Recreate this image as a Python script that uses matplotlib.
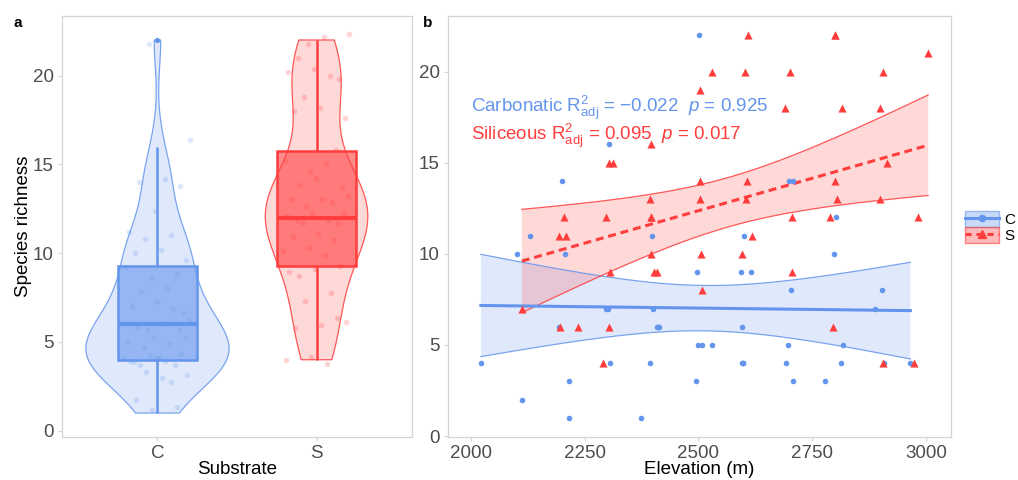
import numpy as np
import matplotlib
matplotlib.use("Agg")
import matplotlib.pyplot as plt
from matplotlib.patches import Patch, Rectangle
from matplotlib.lines import Line2D
from matplotlib.colors import to_rgba

plt.rcParams['font.family'] = ['Liberation Sans', 'DejaVu Sans']
plt.rcParams['mathtext.fontset'] = 'custom'
plt.rcParams['mathtext.rm'] = 'Liberation Sans'
plt.rcParams['mathtext.it'] = 'Liberation Sans:italic'
plt.rcParams['mathtext.bf'] = 'Liberation Sans:bold'

# ---------------- data ----------------
substrates = ["C", "S"]
elev_C = [2501, 2303, 2200, 2699, 2709, 2803, 2130, 2399, 2601, 2102, 2206, 2798,
          2496, 2593, 2615, 2704, 2904, 2297, 2301, 2401, 2888, 2193, 2408, 2414,
          2411, 2597, 2499, 2507, 2531, 2697, 2817, 2022, 2306, 2393, 2596, 2599,
          2599, 2693, 2813, 2907, 2966, 2215, 2494, 2709, 2779, 2112, 2216, 2374]
rich_C = [22, 16, 14, 14, 14, 12, 11, 11, 11, 10, 10, 10,
          9, 9, 9, 8, 8, 7, 7, 7, 7, 6, 6, 6,
          6, 6, 5, 5, 5, 5, 5, 4, 4, 4, 4, 4,
          4, 4, 4, 4, 4, 3, 3, 3, 3, 2, 1, 1]
elev_S = [2609, 2801, 2801, 3005, 2529, 2602, 2702, 2906, 2503, 2691, 2815, 2900,
          2397, 2303, 2312, 2915, 2503, 2607, 2800, 2393, 2503, 2604, 2804, 2900,
          2205, 2296, 2395, 2395, 2706, 2790, 2982, 2194, 2210, 2617, 2397, 2505,
          2597, 2305, 2402, 2408, 2706, 2507, 2112, 2196, 2235, 2304, 2796, 2291,
          2906, 2974]
rich_S = [22, 22, 22, 21, 20, 20, 20, 20, 19, 18, 18, 18,
          16, 15, 15, 15, 14, 14, 14, 13, 13, 13, 13, 13,
          12, 12, 12, 12, 12, 12, 12, 11, 11, 11, 10, 10,
          10, 9, 9, 9, 9, 8, 7, 6, 6, 6, 6, 4,
          4, 4]
stat_text_C = r"Carbonatic R$^{2}_{\mathrm{adj}}$ = $-$0.022  $p$ = 0.925"
stat_text_S = r"Siliceous R$^{2}_{\mathrm{adj}}$ = 0.095  $p$ = 0.017"
annot_x = 2000

BLUE = "#6495ED"
RED = "#FF3D3D"
colors = [BLUE, RED]

fig = plt.figure(figsize=(10.18, 4.8), dpi=100)
W, H = 1018, 480
axA = fig.add_axes([62 / W, 1 - 437 / H, 350 / W, 421 / H])
axB = fig.add_axes([448 / W, 1 - 437 / H, 503 / W, 421 / H])

SPINE = "#D4D4D4"
TICKLAB = "#4D4D4D"
for ax in (axA, axB):
    for s in ax.spines.values():
        s.set_color(SPINE)
        s.set_linewidth(0.9)
    ax.tick_params(colors=SPINE, labelcolor=TICKLAB, labelsize=13.5, length=3, width=0.8, pad=3)

# ---------------- panel a ----------------
def kde(vals, grid):
    v = np.asarray(vals, float)
    n = len(v)
    iqr = np.percentile(v, 75) - np.percentile(v, 25)
    bw = 0.9 * min(v.std(ddof=1), iqr / 1.34) * n ** (-0.2)
    d = np.exp(-0.5 * ((grid[:, None] - v[None, :]) / bw) ** 2).sum(1)
    return d / (n * bw * np.sqrt(2 * np.pi))

groups = [rich_C, rich_S]
grids, dens = [], []
for g in groups:
    gr = np.linspace(min(g), max(g), 512)
    grids.append(gr)
    dens.append(kde(g, gr))
dmax = max(d.max() for d in dens)

for i, (g, gr, d, c) in enumerate(zip(groups, grids, dens, colors)):
    pos = i + 1
    hw = d / dmax * 0.45
    xs = np.concatenate([pos - hw, (pos + hw)[::-1]])
    ys = np.concatenate([gr, gr[::-1]])
    axA.fill(xs, ys, facecolor=to_rgba(c, 0.2), edgecolor=to_rgba(c, 0.85), lw=0.9, zorder=1)

    v = np.asarray(g, float)
    q1, med, q3 = np.percentile(v, [25, 50, 75])
    iqr = q3 - q1
    lo = v[v >= q1 - 1.5 * iqr].min()
    hi = v[v <= q3 + 1.5 * iqr].max()
    out = v[(v < lo) | (v > hi)]
    bw_ = 0.25
    axA.add_patch(Rectangle((pos - bw_, q1), 2 * bw_, q3 - q1, facecolor=to_rgba(c, 0.6),
                            edgecolor=c, lw=1.8, zorder=3))
    axA.plot([pos - bw_, pos + bw_], [med, med], color=c, lw=3.0, zorder=4, solid_capstyle='butt')
    axA.plot([pos, pos], [q3, hi], color=c, lw=1.8, zorder=3, solid_capstyle='butt')
    axA.plot([pos, pos], [lo, q1], color=c, lw=1.8, zorder=3, solid_capstyle='butt')
    if len(out):
        axA.scatter(np.full(len(out), pos), out, s=14, color=c, zorder=5, linewidths=0)

    n = len(v)
    k = np.arange(n)
    dx = (((k * 0.6180339887 + 0.37) % 1) - 0.5) * 0.42
    dy = (((k * 0.7548776662 + 0.21) % 1) - 0.5) * 0.75
    axA.scatter(pos + dx, v + dy, s=16, color=c, alpha=0.22, linewidths=0, zorder=6)

axA.set_xlim(0.4, 2.6)
axA.set_ylim(-0.35, 23.35)
axA.set_xticks([1, 2])
axA.set_xticklabels(substrates)
axA.set_yticks([0, 5, 10, 15, 20])
axA.set_xlabel("Substrate", fontsize=13.5, va='center')
axA.xaxis.set_label_coords(0.5, -(469 - 437) / 421)
axA.set_ylabel("Species richness", fontsize=13.5, va='center')
axA.yaxis.set_label_coords(-(62 - 24) / 350, 0.5)

# ---------------- panel b ----------------
def tq975(df):
    z = 1.959963985
    return z + (z ** 3 + z) / (4 * df) + (5 * z ** 5 + 16 * z ** 3 + 3 * z) / (96 * df ** 2)

series = [(elev_C, rich_C, BLUE, 'o', '-'), (elev_S, rich_S, RED, '^', (0, (2.6, 1.6)))]
for x, y, c, mk, ls in series:
    x = np.asarray(x, float)
    y = np.asarray(y, float)
    n = len(x)
    b1, b0 = np.polyfit(x, y, 1)
    resid = y - (b0 + b1 * x)
    s = np.sqrt((resid ** 2).sum() / (n - 2))
    xs = np.linspace(x.min(), x.max(), 200)
    fit = b0 + b1 * xs
    se = s * np.sqrt(1 / n + (xs - x.mean()) ** 2 / ((x - x.mean()) ** 2).sum())
    t = tq975(n - 2)
    axB.fill_between(xs, fit - t * se, fit + t * se, facecolor=to_rgba(c, 0.2), edgecolor='none', zorder=1)
    axB.plot(xs, fit - t * se, color=c, lw=0.9, alpha=0.85, zorder=2)
    axB.plot(xs, fit + t * se, color=c, lw=0.9, alpha=0.85, zorder=2)
    axB.plot(xs, fit, color=c, lw=2.2, linestyle=ls, zorder=3)

axB.scatter(elev_C, rich_C, s=16, marker='o', color=BLUE, linewidths=0, zorder=4)
axB.scatter(elev_S, rich_S, s=34, marker='^', color=RED, linewidths=0, zorder=4)

axB.text(annot_x, 18.0, stat_text_C, color=BLUE, fontsize=13.5, ha='left', va='center', zorder=6)
axB.text(annot_x, 16.5, stat_text_S, color=RED, fontsize=13.5, ha='left', va='center', zorder=6)

allx = elev_C + elev_S + [annot_x]
xr = max(allx) - min(allx)
axB.set_xlim(min(allx) - 0.05 * xr, max(allx) + 0.05 * xr)
axB.set_ylim(-0.05, 23.05)
axB.set_xticks([2000, 2250, 2500, 2750, 3000])
axB.set_yticks([0, 5, 10, 15, 20])
axB.set_xlabel("Elevation (m)", fontsize=13.5, va='center')
axB.xaxis.set_label_coords(0.5, -(469 - 437) / 421)

# panel labels
fig.text(18 / W, 1 - 23 / H, "a", fontsize=11, fontweight='bold', ha='center', va='center')
fig.text(428 / W, 1 - 23 / H, "b", fontsize=11, fontweight='bold', ha='center', va='center')

# legend
hC = (Patch(facecolor=to_rgba(BLUE, 0.35), edgecolor=to_rgba(BLUE, 0.6), lw=1.0),
      Line2D([], [], color=BLUE, lw=2.2, marker='o', markersize=4.5))
hS = (Patch(facecolor=to_rgba(RED, 0.35), edgecolor=to_rgba(RED, 0.6), lw=1.0),
      Line2D([], [], color=RED, lw=2.2, linestyle=(0, (2.0, 1.6)), marker='^', markersize=6))
fig.legend([hC, hS], substrates, loc='upper left', bbox_to_anchor=(965 / W, 1 - 211 / H),
           frameon=False, fontsize=11, handlelength=2.2, handleheight=1.25,
           labelspacing=0.0, handletextpad=0.35, borderpad=0, borderaxespad=0)

fig.savefig("out.png", dpi=100)
